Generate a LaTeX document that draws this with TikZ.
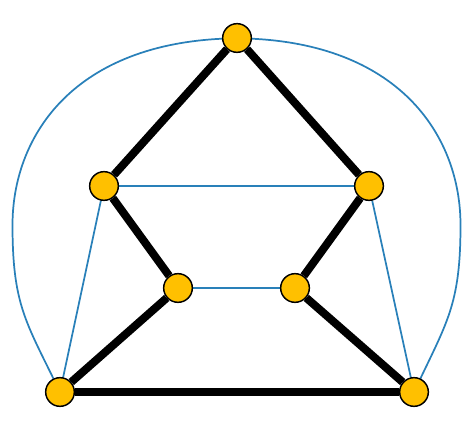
\documentclass[tikz,border=0pt]{standalone}
\usetikzlibrary{backgrounds}
\definecolor{vtxfill}{RGB}{255,192,0}
\definecolor{edgeblue}{RGB}{41,128,185}
\tikzset{every picture/.style={line width=0.75pt}}
\tikzset{
  vtx/.style={circle, draw=black, fill=vtxfill, line width=1.1pt, minimum size=21.5pt, inner sep=0pt},
  boldedge/.style={draw=black, line width=6pt},
  thinedge/.style={draw=edgeblue, line width=1.3pt},
}

\begin{document}
\begin{tikzpicture}[x=0.75pt,y=0.75pt,yscale=-1,xscale=1]
\useasboundingbox (0,0) rectangle (474,427);

%Shape: Circle (vertices)
\node [vtx] (top) at (237,38) {};
\node [vtx] (ul) at (104,186) {};
\node [vtx] (ur) at (369,186) {};
\node [vtx] (ml) at (178,288) {};
\node [vtx] (mr) at (295,288) {};
\node [vtx] (bl) at (60,392) {};
\node [vtx] (br) at (414,392) {};

\begin{scope}[on background layer]
%Straight Lines (black)
\draw [boldedge] (top) -- (ul) ;
\draw [boldedge] (top) -- (ur) ;
\draw [boldedge] (ul) -- (ml) ;
\draw [boldedge] (ur) -- (mr) ;
\draw [boldedge] (ml) -- (bl) ;
\draw [boldedge] (mr) -- (br) ;
\draw [boldedge] (bl) -- (br) ;
%Straight Lines (blue)
\draw [thinedge] (ul) -- (ur) ;
\draw [thinedge] (ml) -- (mr) ;
\draw [thinedge] (ul) -- (bl) ;
\draw [thinedge] (ur) -- (br) ;
%Curve Lines
\draw [thinedge] (top) .. controls (70,46) and (12.5,139) .. (12.5,225) .. controls (12.5,301) and (24.7,320) .. (bl) ;
\draw [thinedge] (top) .. controls (403,46) and (460.5,139) .. (460.5,225) .. controls (460.5,301) and (448.3,320) .. (br) ;
\end{scope}

\end{tikzpicture}
\end{document}
